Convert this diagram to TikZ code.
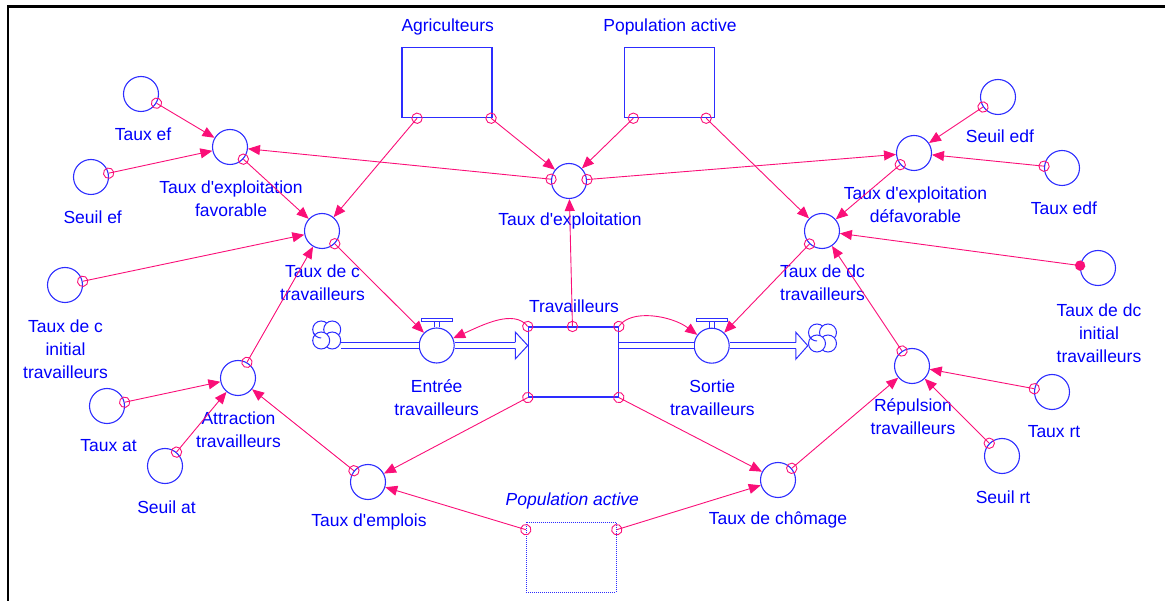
\documentclass[tikz,border=0pt]{standalone}
\usepackage{fontspec}
\setmainfont{Liberation Sans}[Ligatures=TeXOff]
\usetikzlibrary{arrows.meta,calc,decorations.markings}
\definecolor{vblue}{RGB}{0,0,250}
\definecolor{vline}{RGB}{45,45,255}
\definecolor{vpink}{RGB}{250,15,120}
\begin{document}
\begin{tikzpicture}[x=1pt,y=-1pt,
  aux/.style={circle,draw=vline,line width=1.1pt,minimum size=35pt,inner sep=0pt},
  lbl/.style={text=vblue,font=\fontsize{17.5}{23}\selectfont,align=center,inner sep=0pt},
  stock/.style={rectangle,draw=vline,line width=1.1pt,minimum width=90pt,minimum height=70pt,inner sep=0pt},
  ghoststock/.style={rectangle,draw=vline,line width=1pt,densely dotted,minimum width=90pt,minimum height=70pt,inner sep=0pt},
  link/.style={draw=vpink,line width=0.9pt,-{Triangle[length=12pt,width=10pt]},
    postaction={decorate},
    decoration={markings,mark=at position 0pt with {\draw[vpink,line width=0.9pt] (0,0) circle[radius=5.2pt];}}},
  linkdot/.style={draw=vpink,line width=0.9pt,-{Triangle[length=12pt,width=10pt]},
    postaction={decorate},
    decoration={markings,mark=at position 0pt with {\fill[vpink] (0,0) circle[radius=5.2pt];}}},
  pipe/.style={draw=vline,line width=1pt,double=white,double distance=5pt},
  pipeedge/.style={draw=vline,line width=1pt,line join=miter},
  cloudnode/.style={circle,minimum size=29pt,inner sep=0pt},
  lobe/.style={draw=vline,line width=1pt,fill=white}]
\useasboundingbox (0,0) rectangle (1165,601);

% frame
\draw[line width=2.5pt,line join=miter] (8,601) -- (8,6.5) -- (1165,6.5);

% stocks
\node[stock] (agri) at (447,82.7) {};
\node[stock] (popa) at (669.7,82.7) {};
\node[stock] (trav) at (573.3,362) {};
\node[ghoststock] (ghost) at (571.3,557) {};
\node[lbl] (lAgri) at (447.7,26.7) {Agriculteurs};
\node[lbl] (lPopa) at (670,26.7) {Population active};
\node[lbl] (lTrav) at (574,306) {Travailleurs};
\node[lbl,font=\fontsize{17.5}{23}\selectfont\itshape] (lGhost) at (572.3,501) {Population active};

% auxiliaries
\node[aux] (tef) at (141,94) {};
\node[aux] (sef) at (91,177) {};
\node[aux] (texf) at (230,147) {};
\node[aux] (tc) at (322,231) {};
\node[aux] (tci) at (65,285) {};
\node[aux] (att) at (238,378) {};
\node[aux] (tat) at (107,406) {};
\node[aux] (sat) at (165,466) {};
\node[aux] (temp) at (368,482) {};
\node[aux] (tex) at (569,181) {};
\node[aux] (tchom) at (778,480) {};
\node[aux] (texd) at (914,153) {};
\node[aux] (sedf) at (998,97) {};
\node[aux] (tedf) at (1062,168) {};
\node[aux] (tdc) at (822,231) {};
\node[aux] (tdci) at (1098,268) {};
\node[aux] (rep) at (912,366) {};
\node[aux] (trt) at (1052,392) {};
\node[aux] (srt) at (1002,456) {};

\node[lbl] (lTef) at (143,134) {Taux ef};
\node[lbl] (lSef) at (92.7,217) {Seuil ef};
\node[lbl] (lTexf) at (231,198.5) {Taux d'exploitation\\favorable};
\node[lbl] (lTc) at (322.5,283) {Taux de c\\travailleurs};
\node[lbl] (lTci) at (65.5,349) {Taux de c\\initial\\travailleurs};
\node[lbl] (lAtt) at (238.5,429.5) {Attraction\\travailleurs};
\node[lbl] (lTat) at (108.5,446) {Taux at};
\node[lbl] (lSat) at (166.5,507) {Seuil at};
\node[lbl] (lTemp) at (369,522) {Taux d'emplois};
\node[lbl] (lTex) at (570,221) {Taux d'exploitation};
\node[lbl] (lTchom) at (778,520) {Taux de chômage};
\node[lbl] (lTexd) at (915.5,204.5) {Taux d'exploitation\\défavorable};
\node[lbl] (lSedf) at (1000,136) {Seuil edf};
\node[lbl] (lTedf) at (1064,208) {Taux edf};
\node[lbl] (lTdc) at (822.5,283) {Taux de dc\\travailleurs};
\node[lbl] (lTdci) at (1099,333) {Taux de dc\\initial\\travailleurs};
\node[lbl] (lRep) at (913,417) {Répulsion\\travailleurs};
\node[lbl] (lTrt) at (1054,432) {Taux rt};
\node[lbl] (lSrt) at (1003,497) {Seuil rt};

% flows: clouds, valves, pipes
\node[cloudnode] (cloudL) at (326.7,335) {};
\node[cloudnode] (cloudR) at (822.5,338) {};
\foreach \c in {cloudL,cloudR}{
  \foreach \dx/\dy in {-5.5/-5.5,5.5/-5.5,5.5/5.5,-5.5/5.5}
    \draw[lobe] ($(\c)+(\dx,\dy)$) circle[radius=8.5pt];
  % first lobe's edge laid over the last one, so the lobes curl round
  \draw[vline,line width=1pt] ($(\c)+(-5.5,-5.5)+(0,8.5)$) arc[start angle=270,end angle=200,radius=8.5pt];
}

\node[aux] (entree) at (436.7,345.5) {};
\node[aux] (sortie) at (711.7,345.7) {};
\node[lbl] (lEntree) at (436.7,397.5) {Entrée\\travailleurs};
\node[lbl] (lSortie) at (712.3,397.5) {Sortie\\travailleurs};

\foreach \v in {entree,sortie}{
  \draw[pipeedge] ($(\v.north)+(-15.5,-8.7)$) rectangle ($(\v.north)+(15.5,-6)$);
  \draw[pipeedge] ($(\v.north)+(-2.7,-6)$) -- ($(\v.north)+(-2.7,0)$);
  \draw[pipeedge] ($(\v.north)+(2.7,-6)$) -- ($(\v.north)+(2.7,0)$);
}

\coordinate (chevL) at ($(trav.west |- entree)+(-12.5,0)$);
\coordinate (chevR) at ($(cloudR.west |- sortie)+(-12,0)$);
\draw[pipe] (cloudL.east |- entree) -- (entree) -- (chevL);
\draw[pipe] (trav.east |- sortie) -- (sortie) -- (chevR);
\draw[pipeedge] ($(chevL)+(0,-3)$) -- ($(chevL)+(0,-13.5)$) -- (trav.west |- entree)
  -- ($(chevL)+(0,13.5)$) -- ($(chevL)+(0,3)$);
\draw[pipeedge] ($(chevR)+(0,-3)$) -- ($(chevR)+(0,-13.5)$) -- (cloudR.west |- sortie)
  -- ($(chevR)+(0,13.5)$) -- ($(chevR)+(0,3)$);

% causal links
\draw[link] (tef) -- (texf);
\draw[link] (sef) -- (texf);
\draw[link] (texf) -- (tc);
\draw[link] (tci) -- (tc);
\draw[link] (agri) -- (tc);
\draw[link] (tex) -- (texf);
\draw[link] (agri) -- (tex);
\draw[link] (popa) -- (tex);
\draw[link] (tex) -- (texd);
\draw[link] (popa) -- (tdc);
\draw[link] (sedf) -- (texd);
\draw[link] (tedf) -- (texd);
\draw[link] (texd) -- (tdc);
\draw[linkdot] (tdci) -- (tdc);
\draw[link] (tdc) -- (sortie);
\draw[link] (rep) -- (tdc);
\draw[link] (trt) -- (rep);
\draw[link] (srt) -- (rep);
\draw[link] (tchom) -- (rep);
\draw[link] (tc) -- (entree);
\draw[link] (att) -- (tc);
\draw[link] (tat) -- (att);
\draw[link] (sat) -- (att);
\draw[link] (temp) -- (att);
\draw[link] (trav) -- (tex);
\draw[link] (trav.north west) .. controls +(-14,-18) and +(45,-20) .. (entree);
\draw[link] (trav.north east) .. controls +(12,-18) and +(-40,-30) .. (sortie);
\draw[link] (trav.south west) -- (temp);
\draw[link] (trav.south east) -- (tchom);
\draw[link] (ghost.149) -- (temp);
\draw[link] (ghost.31) -- (tchom);
\end{tikzpicture}
\end{document}
